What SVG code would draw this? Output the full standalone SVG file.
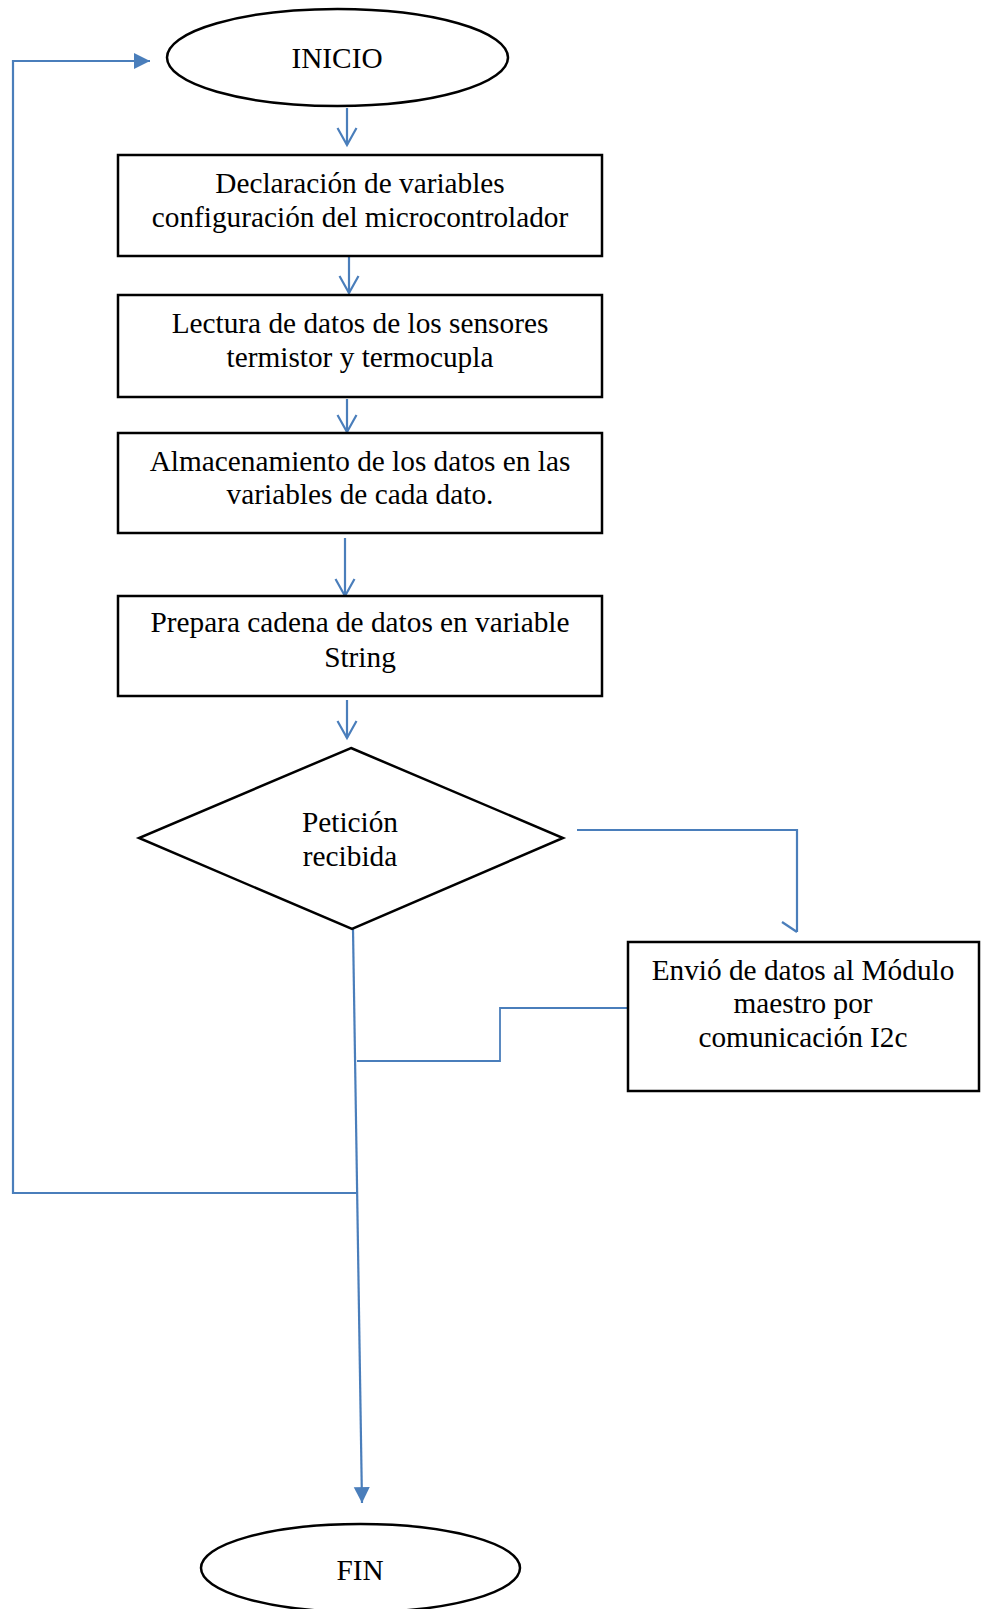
<svg xmlns="http://www.w3.org/2000/svg" width="982" height="1609" viewBox="0 0 982 1609">
<style>
.shape{fill:#fff;stroke:#000;stroke-width:2.5}
.conn{fill:none;stroke:#4a7ebb;stroke-width:2.2}
.thin{fill:none;stroke:#4a7ebb;stroke-width:1.8}
text{font-family:"Liberation Serif","Times New Roman",serif;font-size:29.3px;fill:#000;text-anchor:middle}
</style>
<defs>
<marker id="open" markerUnits="userSpaceOnUse" viewBox="-20 -12 24 24" refX="0" refY="0" markerWidth="24" markerHeight="24" orient="auto" overflow="visible">
<path d="M-17,-9.5 L0,0 L-17,9.5" fill="none" stroke="#4a7ebb" stroke-width="2.2"/>
</marker>
<marker id="filled" markerUnits="userSpaceOnUse" viewBox="-18 -10 20 20" refX="0" refY="0" markerWidth="20" markerHeight="20" orient="auto" overflow="visible">
<path d="M-16,-8 L0,0 L-16,8 Z" fill="#4a7ebb"/>
</marker>
</defs>
<rect width="982" height="1609" fill="#fff"/>
<g id="connectors">
<line class="conn" x1="347" y1="108" x2="347" y2="145" marker-end="url(#open)"/>
<line class="conn" x1="349" y1="257" x2="349" y2="293" marker-end="url(#open)"/>
<line class="conn" x1="347" y1="399" x2="347" y2="432" marker-end="url(#open)"/>
<line class="conn" x1="345" y1="538" x2="345" y2="596" marker-end="url(#open)"/>
<line class="conn" x1="347" y1="700" x2="347" y2="738" marker-end="url(#open)"/>
<polyline class="conn" points="577,830 797,830 797,932"/>
<line class="conn" x1="782" y1="922" x2="797" y2="932"/>
<polyline class="thin" points="628,1008 500,1008 500,1061 357,1061"/>
<line class="conn" x1="353" y1="929" x2="362" y2="1503" marker-end="url(#filled)"/>
<polyline class="conn" points="357,1193 13,1193 13,61 150,61" marker-end="url(#filled)"/>
</g>
<g id="inicio">
<ellipse class="shape" cx="337.5" cy="57.5" rx="170.5" ry="48.5"/>
<text x="337" y="68">INICIO</text>
</g>
<g id="declaracion">
<rect class="shape" x="118" y="155" width="484" height="101"/>
<text x="360" y="193">Declaración de variables</text>
<text x="360" y="227">configuración del microcontrolador</text>
</g>
<g id="lectura">
<rect class="shape" x="118" y="295" width="484" height="102"/>
<text x="360" y="333">Lectura de datos de los sensores</text>
<text x="360" y="367">termistor y termocupla</text>
</g>
<g id="almacenamiento">
<rect class="shape" x="118" y="433" width="484" height="100"/>
<text x="360" y="471">Almacenamiento de los datos en las</text>
<text x="360" y="504">variables de cada dato.</text>
</g>
<g id="prepara">
<rect class="shape" x="118" y="596" width="484" height="100"/>
<text x="360" y="632">Prepara cadena de datos en variable</text>
<text x="360" y="667">String</text>
</g>
<g id="peticion">
<polygon class="shape" points="351,748 563,838 352,929 139,838"/>
<text x="350" y="832">Petición</text>
<text x="350" y="866">recibida</text>
</g>
<g id="envio">
<rect class="shape" x="628" y="942" width="351" height="149"/>
<text x="803" y="980">Envió de datos al Módulo</text>
<text x="803" y="1013">maestro por</text>
<text x="803" y="1047">comunicación I2c</text>
</g>
<g id="fin">
<ellipse class="shape" cx="360.5" cy="1568" rx="159.5" ry="44"/>
<text x="360" y="1580">FIN</text>
</g>
</svg>
